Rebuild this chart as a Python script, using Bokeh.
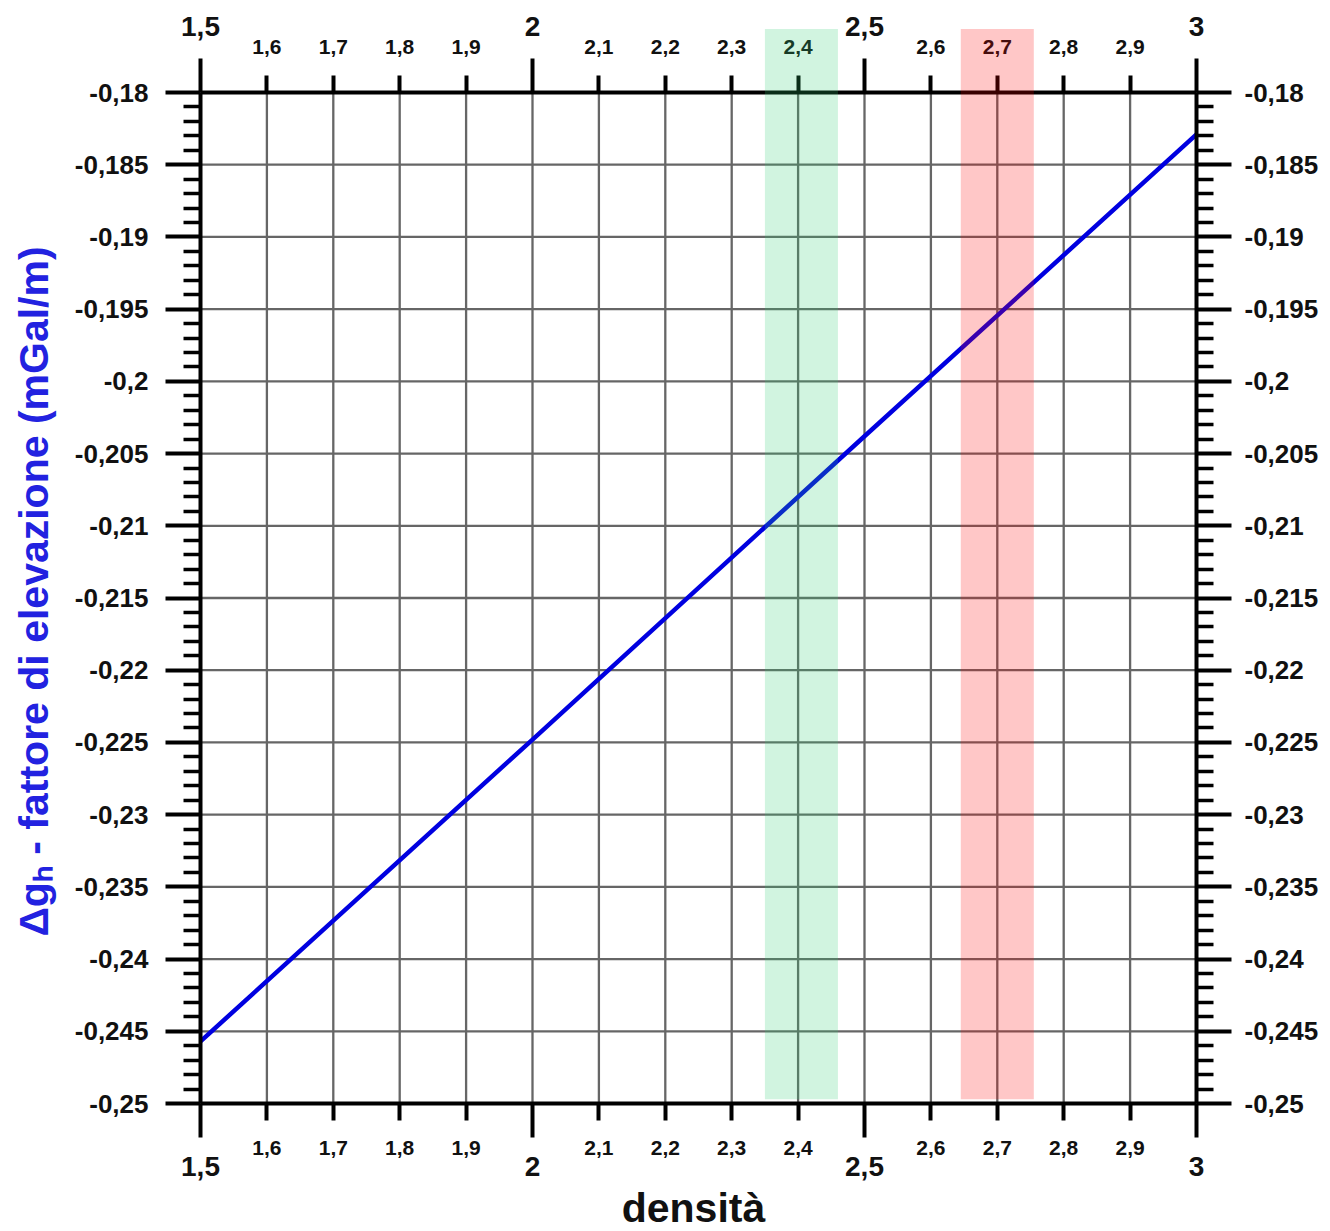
from bokeh.plotting import figure
from bokeh.models import (LinearAxis, FixedTicker, Range1d, CustomJSTickFormatter,
                          Title, ColumnDataSource)
from bokeh.embed import file_html
from bokeh.resources import INLINE

# ---------------- data ----------------
density = [1.5, 2.0, 2.5, 3.0]
elev_factor = [-0.2457, -0.2248, -0.2038, -0.1829]

band_left = [2.35, 2.645]
band_right = [2.46, 2.755]
band_colors = ["#2ecc71", "#ff0000"]

x_major_ticks = [1.5, 2.0, 2.5, 3.0]
x_major_labels = ["1,5", "2", "2,5", "3"]
x_minor_ticks = [1.6, 1.7, 1.8, 1.9, 2.1, 2.2, 2.3, 2.4, 2.6, 2.7, 2.8, 2.9]
x_minor_labels = ["1,6", "1,7", "1,8", "1,9", "2,1", "2,2", "2,3", "2,4",
                  "2,6", "2,7", "2,8", "2,9"]
y_ticks = [-0.18, -0.185, -0.19, -0.195, -0.2, -0.205, -0.21, -0.215,
           -0.22, -0.225, -0.23, -0.235, -0.24, -0.245, -0.25]
y_labels = ["-0,18", "-0,185", "-0,19", "-0,195", "-0,2", "-0,205", "-0,21",
            "-0,215", "-0,22", "-0,225", "-0,23", "-0,235", "-0,24", "-0,245",
            "-0,25"]

x_lo, x_hi = 1.5, 3.0
y_lo, y_hi = -0.25, -0.18
band_top = -0.1756
band_bottom = -0.2497

FONT = "Liberation Sans"

# ---------------- figure geometry ----------------
LEFT_BORDER = 56
FRAME_W = 1330 - LEFT_BORDER
FRAME_H = 1182
PX_X = 996 / (x_hi - x_lo)          # pixels per density unit
PX_Y = 1011 / (y_hi - y_lo)         # pixels per mGal/m unit
x_start = x_lo - (200 - LEFT_BORDER) / PX_X
x_end = x_start + FRAME_W / PX_X
y_end = y_hi + 92 / PX_Y
y_start = y_end - FRAME_H / PX_Y

p = figure(frame_width=FRAME_W, frame_height=FRAME_H,
           x_range=Range1d(x_start, x_end), y_range=Range1d(y_start, y_end),
           x_axis_location=None, y_axis_location=None,
           output_backend="svg", toolbar_location=None,
           min_border_left=LEFT_BORDER, min_border_right=0,
           min_border_top=0, min_border_bottom=49)
p.outline_line_color = None
p.xgrid.visible = False
p.ygrid.visible = False
p.background_fill_color = "white"
p.border_fill_color = "white"


def fmt(tick_vals, tick_texts):
    return CustomJSTickFormatter(args=dict(tv=tick_vals, tt=tick_texts), code="""
        for (let i = 0; i < tv.length; i++) {
            if (Math.abs(tv[i] - tick) < 1e-9) return tt[i];
        }
        return tick.toString().replace('.', ',');
    """)


# ---------------- grid ----------------
grid_x = x_minor_ticks + [x for x in x_major_ticks if x_lo < x < x_hi]
grid_y = [y for y in y_ticks if y_lo < y < y_hi]
p.segment(x0=grid_x, x1=grid_x, y0=[y_lo] * len(grid_x), y1=[y_hi] * len(grid_x),
          line_color="#666666", line_width=2.3)
p.segment(x0=[x_lo] * len(grid_y), x1=[x_hi] * len(grid_y), y0=grid_y, y1=grid_y,
          line_color="#666666", line_width=2.3)

# ---------------- data line ----------------
p.line(density, elev_factor, line_color="#0000e0", line_width=4.5)

# ---------------- y axes (fixed at the density limits) ----------------
y_minor = [round(t - k * 0.001, 4) for t in y_ticks[:-1] for k in range(1, 5)]


def make_y(loc, standoff):
    ax = LinearAxis(fixed_location=loc)
    ax.ticker = FixedTicker(ticks=y_ticks, minor_ticks=y_minor)
    ax.formatter = fmt(y_ticks, y_labels)
    ax.bounds = (y_lo, y_hi)
    ax.axis_line_width = 4
    ax.major_tick_line_width = 4
    ax.minor_tick_line_width = 3.5
    ax.major_tick_in = 0
    ax.major_tick_out = 35
    ax.minor_tick_in = 0
    ax.minor_tick_out = 17
    ax.major_label_text_font = FONT
    ax.major_label_text_font_style = "bold"
    ax.major_label_text_font_size = "26px"
    ax.major_label_text_color = "#111111"
    ax.major_label_standoff = standoff
    return ax


p.add_layout(make_y(x_lo, 17), "left")
p.add_layout(make_y(x_hi, 13), "right")


# ---------------- x axes (fixed at the value limits) ----------------
def make_x(ticks, labels, loc, tick_out, size, standoff, line):
    ax = LinearAxis(fixed_location=loc)
    ax.ticker = FixedTicker(ticks=ticks, minor_ticks=[])
    ax.formatter = fmt(ticks, labels)
    ax.bounds = (x_lo, x_hi)
    ax.axis_line_width = 4
    ax.axis_line_color = "black" if line else None
    ax.major_tick_line_width = 4
    ax.major_tick_in = 0
    ax.major_tick_out = tick_out
    ax.minor_tick_line_color = None
    ax.major_label_text_font = FONT
    ax.major_label_text_font_style = "bold"
    ax.major_label_text_font_size = size
    ax.major_label_text_color = "#111111"
    ax.major_label_standoff = standoff
    return ax


p.add_layout(make_x(x_minor_ticks, x_minor_labels, y_hi, 17, "21px", 22, True), "above")
p.add_layout(make_x(x_major_ticks, x_major_labels, y_hi, 34, "28px", 23, False), "above")
p.add_layout(make_x(x_minor_ticks, x_minor_labels, y_lo, 17, "21px", 20, True), "below")
p.add_layout(make_x(x_major_ticks, x_major_labels, y_lo, 34, "28px", 19, False), "below")

# ---------------- axis titles ----------------
p.add_layout(Title(text="densità", align="center", text_font=FONT,
                   text_font_style="bold", text_font_size="41px",
                   text_color="#111111", standoff=0, offset=0), "below")
p.add_layout(Title(text="Δgₕ - fattore di elevazione (mGal/m)", align="center",
                   text_font=FONT, text_font_style="bold", text_font_size="41px",
                   text_color="#2222e0", standoff=0, offset=0), "left")

# ---------------- highlighted bands (on top, translucent) ----------------
bands = ColumnDataSource(dict(left=band_left, right=band_right,
                              top=[band_top] * len(band_left),
                              bottom=[band_bottom] * len(band_left),
                              color=band_colors))
r = p.quad(left="left", right="right", top="top", bottom="bottom", source=bands,
           fill_color="color", fill_alpha=0.22, line_color=None)
r.level = "overlay"

open("out.html", "w").write(file_html(p, INLINE))
